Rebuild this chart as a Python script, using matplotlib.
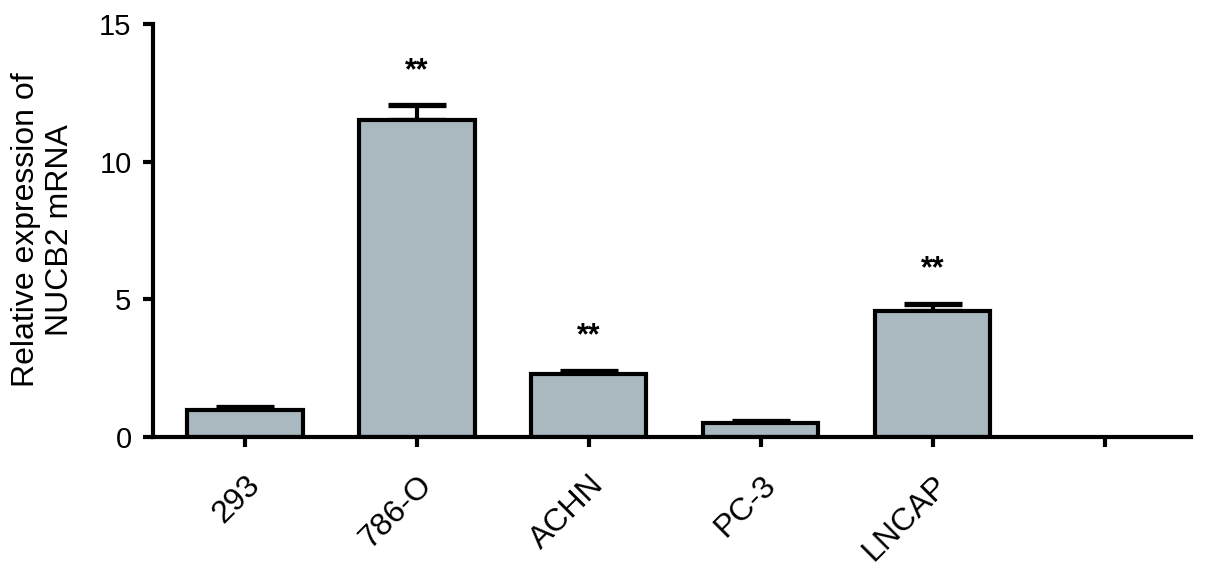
import numpy as np
import matplotlib.pyplot as plt
from matplotlib import transforms

plt.rcParams['font.family'] = ['Liberation Sans', 'DejaVu Sans']

# data
cell_lines = ['293', '786-O', 'ACHN', 'PC-3', 'LNCAP']
expression = [1.0, 11.5, 2.3, 0.5, 4.6]
sem = [0.1, 0.55, 0.12, 0.08, 0.25]
marks = ['', '**', '**', '', '**']

bar_color = '#aab9c0'

fig = plt.figure(figsize=(12.05, 5.73), dpi=100)
ax = fig.add_axes([0.127, 0.237, 0.861, 0.721])

x = np.arange(len(cell_lines))
ax.bar(x, expression, width=0.67, color=bar_color, edgecolor='black',
       linewidth=3, zorder=2)
ax.errorbar(x, expression, yerr=[np.zeros(len(sem)), sem], fmt='none',
            ecolor='black', elinewidth=3, capsize=21, capthick=3.8, zorder=1)

for xi, v, e, m in zip(x, expression, sem, marks):
    if m:
        ax.text(xi, v + e + 1.25, m, ha='center', va='center', fontsize=22,
                fontweight='bold')

# six ticks, last one empty (as in the original)
ax.set_xticks(np.arange(len(cell_lines) + 1))
ax.set_xticklabels(cell_lines + [''], rotation=45, ha='right',
                   rotation_mode='anchor', fontsize=23)
offset = transforms.ScaledTranslation(9 / 100, 0, fig.dpi_scale_trans)
for lbl in ax.get_xticklabels():
    lbl.set_transform(lbl.get_transform() + offset)

ax.set_xlim(-0.535, 5.5)
ax.set_ylim(0, 15)
ax.set_yticks([0, 5, 10, 15])
ax.tick_params(axis='y', labelsize=21, width=3, length=7.5, pad=8)
ax.tick_params(axis='x', width=3, length=7.5, pad=16)

for s in ['top', 'right']:
    ax.spines[s].set_visible(False)
for s in ['left', 'bottom']:
    ax.spines[s].set_linewidth(3)

fig.text(43 / 1205, 1 - 230 / 573, 'Relative expression of\nNUCB2 mRNA',
         rotation=90, ha='center', va='center', multialignment='center',
         fontsize=23)

fig.savefig('out.png', dpi=100)
